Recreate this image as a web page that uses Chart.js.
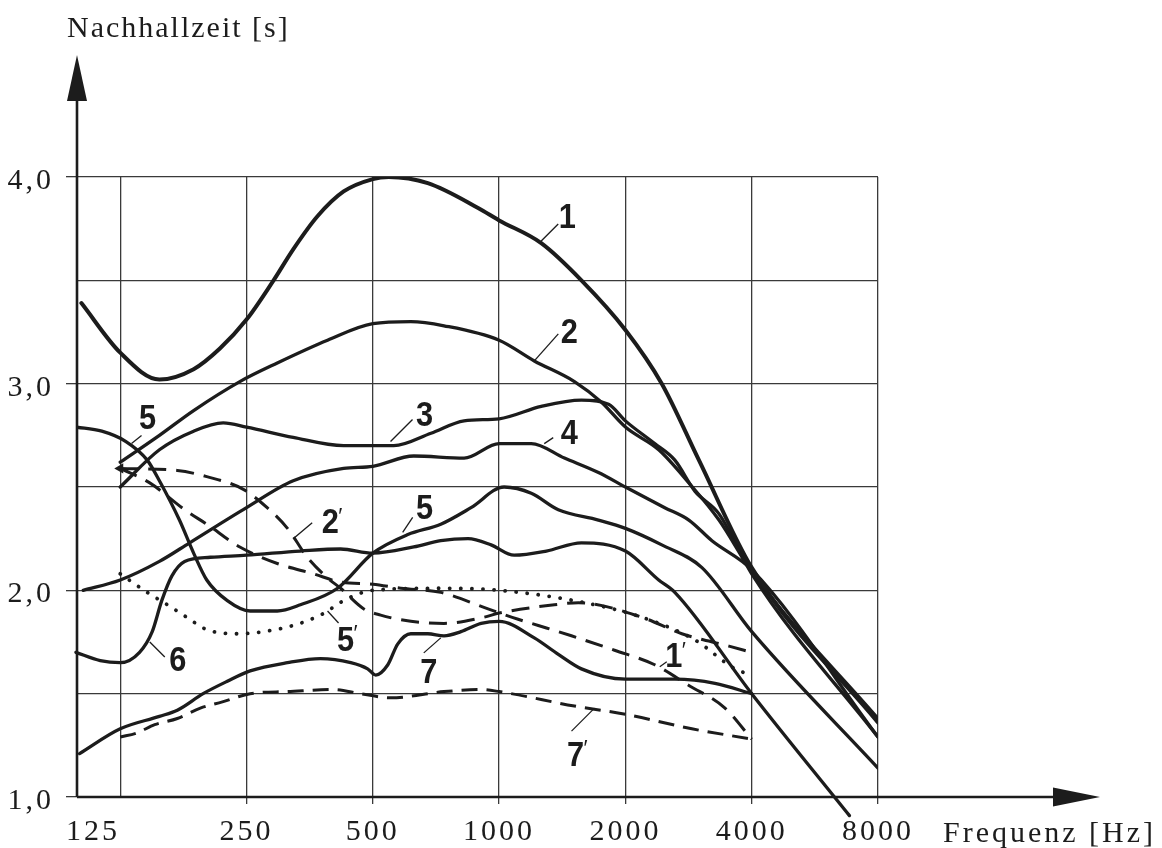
<!DOCTYPE html>
<html>
<head>
<meta charset="utf-8">
<script src="https://cdn.jsdelivr.net/npm/chart.js@4"></script>
<style>
  html, body { margin: 0; padding: 0; background: #fff; }
  #wrap { width: 1162px; height: 848px; }
</style>
</head>
<body>
<div id="wrap"><canvas id="rt-chart"></canvas></div>
<script>
// axis ticks
let freqTicks = [125, 250, 500, 1000, 2000, 4000, 8000];
let timeTicks = [1, 1.5, 2, 2.5, 3, 3.5, 4];

// reverberation time curves, frequency in Hz, time in s
let freq1 = [101, 125, 155, 187, 216, 250, 290, 323, 369, 426, 500, 546, 676, 891, 1000, 1260, 1571, 2000, 2442, 2994, 4000, 8000];
let rt1   = [3.39, 3.15, 3.02, 3.07, 3.17, 3.31, 3.50, 3.65, 3.81, 3.93, 3.99, 4.00, 3.97, 3.85, 3.79, 3.68, 3.50, 3.26, 3.00, 2.63, 2.11, 1.36];

let freq2 = [125, 155, 187, 241, 296, 390, 500, 616, 739, 1000, 1213, 1512, 1754, 2000, 2401, 2833, 3343, 4000, 8000];
let rt2   = [2.62, 2.75, 2.87, 3.01, 3.10, 3.21, 3.29, 3.30, 3.28, 3.21, 3.11, 3.01, 2.91, 2.79, 2.68, 2.52, 2.34, 2.09, 1.38];

let freq3 = [125, 155, 187, 220, 250, 323, 426, 561, 688, 825, 1000, 1260, 1571, 1823, 2000, 2349, 2623, 2928, 3343, 4000, 8000];
let rt3   = [2.50, 2.68, 2.77, 2.81, 2.79, 2.74, 2.70, 2.70, 2.76, 2.82, 2.83, 2.89, 2.92, 2.90, 2.82, 2.71, 2.63, 2.48, 2.37, 2.08, 1.29];

let freq4 = [102, 125, 155, 183, 250, 323, 426, 500, 626, 825, 1000, 1193, 1431, 1725, 2000, 2482, 2833, 3216, 4000, 8000];
let rt4   = [2.00, 2.05, 2.14, 2.23, 2.40, 2.53, 2.59, 2.60, 2.65, 2.64, 2.71, 2.71, 2.64, 2.57, 2.50, 2.40, 2.34, 2.24, 2.10, 1.29];

let freq5 = [98, 113, 129, 145, 155, 173, 187, 201, 225, 255, 296, 336, 412, 500, 606, 726, 857, 1028, 1193, 1384, 1725, 2000, 2442, 3044, 4000, 8000];
let rt5   = [2.79, 2.77, 2.72, 2.63, 2.53, 2.34, 2.18, 2.05, 1.95, 1.90, 1.90, 1.93, 2.01, 2.18, 2.27, 2.32, 2.40, 2.50, 2.47, 2.39, 2.34, 2.30, 2.22, 2.11, 1.80, 1.14];

let freq6 = [98, 112, 125, 139, 149, 157, 166, 178, 205, 250, 336, 419, 500, 626, 726, 843, 957, 1086, 1296, 1571, 2000, 2401, 2623, 4000, 6840];
let rt6   = [1.70, 1.66, 1.65, 1.70, 1.80, 1.95, 2.07, 2.14, 2.16, 2.17, 2.19, 2.20, 2.18, 2.21, 2.24, 2.25, 2.22, 2.17, 2.19, 2.23, 2.19, 2.05, 1.99, 1.50, 0.91];

let freq7 = [100, 125, 155, 171, 197, 225, 255, 313, 375, 443, 486, 508, 543, 573, 616, 676, 739, 811, 906, 1000, 1213, 1384, 1571, 2000, 2623, 3270, 4000];
let rt7   = [1.21, 1.33, 1.39, 1.42, 1.50, 1.56, 1.61, 1.65, 1.67, 1.65, 1.62, 1.59, 1.64, 1.74, 1.79, 1.79, 1.78, 1.80, 1.84, 1.85, 1.77, 1.69, 1.62, 1.57, 1.57, 1.55, 1.50];

let freq1p = [125, 147, 178, 201, 241, 296, 361, 419, 500, 583, 726, 941, 1110, 1240, 1487, 1884, 2349, 2833, 3455, 4000];
let rt1p   = [2.59, 2.52, 2.39, 2.32, 2.21, 2.13, 2.08, 2.04, 2.03, 2.01, 1.99, 1.91, 1.86, 1.83, 1.78, 1.71, 1.64, 1.54, 1.43, 1.28];

let freq2p = [125, 171, 201, 245, 280, 313, 349, 390, 419, 476, 522, 616, 739, 921, 1000, 1354, 1545, 2187, 2726, 3531, 4000];
let rt2p   = [2.59, 2.58, 2.55, 2.49, 2.40, 2.30, 2.16, 2.06, 2.01, 1.91, 1.88, 1.85, 1.84, 1.87, 1.89, 1.93, 1.94, 1.87, 1.79, 1.73, 1.70];

let freq5p = [125, 145, 162, 180, 201, 241, 274, 323, 375, 435, 500, 726, 1000, 1512, 2187, 2928, 3651, 4000];
let rt5p   = [2.08, 1.99, 1.93, 1.87, 1.81, 1.79, 1.80, 1.83, 1.88, 1.96, 2.00, 2.01, 2.00, 1.95, 1.87, 1.76, 1.62, 1.59];

let freq7p = [125, 137, 151, 171, 194, 219, 255, 313, 403, 468, 551, 739, 906, 1000, 1512, 2000, 2880, 4000];
let rt7p   = [1.29, 1.31, 1.35, 1.38, 1.43, 1.46, 1.50, 1.51, 1.52, 1.50, 1.48, 1.51, 1.52, 1.51, 1.44, 1.40, 1.33, 1.28];

const ink = '#1c1c1c';
const gridInk = '#3a3a3a';
const serif = '"Liberation Serif", "Times New Roman", serif';

// curve numbers: anchor on the curve (f, v), leader end (lx, ly) and label centre (dx, dy) in px
const tags = [
  { text: '1', f: 1260, v: 3.69, lx: 17, ly: -17, dx: 26, dy: -25 },
  { text: '2', f: 1213, v: 3.11, lx: 24, ly: -27, dx: 35, dy: -30 },
  { text: '3', f: 551, v: 2.72, lx: 22, ly: -22, dx: 34, dy: -27 },
  { text: '4', f: 1281, v: 2.71, lx: 9, ly: -6, dx: 25, dy: -11 },
  { text: '5', f: 589, v: 2.28, lx: 10, ly: -15, dx: 22, dy: -25 },
  { text: '5', f: 133, v: 2.71, lx: 10, ly: -8, dx: 16, dy: -26 },
  { text: '6', f: 147, v: 1.75, lx: 15, ly: 15, dx: 28, dy: 17 },
  { text: '7', f: 726, v: 1.77, lx: -17, ly: 15, dx: -12, dy: 33 },
  { text: '2', prime: true, f: 323, v: 2.25, lx: 19, ly: -16, dx: 37, dy: -17 },
  { text: '5', prime: true, f: 390, v: 1.90, lx: 11, ly: 12, dx: 18, dy: 28 },
  { text: '1', prime: true, f: 2415, v: 1.63, lx: 7, ly: -5, dx: 14, dy: -11 },
  { text: '7', prime: true, f: 1688, v: 1.43, lx: -23, ly: 23, dx: -19, dy: 46 }
];

function pts(fs, ts) {
  return fs.map((f, i) => ({ x: f, y: ts[i] }));
}

function curve(fs, ts, extra) {
  return Object.assign({
    data: pts(fs, ts),
    borderColor: ink,
    borderWidth: 3.3,
    pointRadius: 0,
    fill: false,
    cubicInterpolationMode: 'monotone',
    borderCapStyle: 'round',
    borderJoinStyle: 'round'
  }, extra);
}

const dashed = [18, 10];

let datasets = [
  curve(freq1, rt1, { borderWidth: 4 }),
  curve(freq2, rt2),
  curve(freq3, rt3),
  curve(freq4, rt4),
  curve(freq5, rt5),
  curve(freq6, rt6, { clip: false }),
  curve(freq7, rt7),
  curve(freq1p, rt1p, { borderDash: dashed, borderCapStyle: 'butt', borderWidth: 3 }),
  curve(freq2p, rt2p, {
    borderDash: dashed, borderCapStyle: 'butt', borderWidth: 3,
    pointRadius: c => c.dataIndex === 0 ? 6 : 0,
    pointStyle: 'triangle', rotation: -90,
    pointBackgroundColor: ink, pointBorderWidth: 0
  }),
  curve(freq5p, rt5p, { borderDash: [0.1, 11], borderWidth: 3.8 }),
  curve(freq7p, rt7p, { borderDash: [16, 9], borderCapStyle: 'butt', borderWidth: 3 })
];

const decor = {
  id: 'decor',
  beforeUpdate(chart) {
    chart.ctx.letterSpacing = '3px';
  },
  beforeDraw(chart) {
    const c = chart.ctx;
    c.save();
    c.fillStyle = '#fff';
    c.fillRect(0, 0, chart.width, chart.height);
    c.restore();
    c.letterSpacing = '3px';
  },
  afterDraw(chart) {
    const c = chart.ctx, a = chart.chartArea;
    const xs = chart.scales.x, ys = chart.scales.y;
    c.save();

    // axes with arrow heads
    c.strokeStyle = ink;
    c.fillStyle = ink;
    c.lineWidth = 2.6;
    c.beginPath();
    c.moveTo(a.left, a.bottom);
    c.lineTo(a.left, a.top - 80);
    c.moveTo(a.left, a.bottom);
    c.lineTo(a.right + 178, a.bottom);
    c.stroke();
    c.beginPath();
    c.moveTo(a.left, a.top - 122);
    c.lineTo(a.left + 10, a.top - 76);
    c.lineTo(a.left - 10, a.top - 76);
    c.closePath();
    c.fill();
    c.beginPath();
    c.moveTo(a.right + 222, a.bottom);
    c.lineTo(a.right + 175, a.bottom - 9.5);
    c.lineTo(a.right + 175, a.bottom + 9.5);
    c.closePath();
    c.fill();

    // axis titles
    c.font = '30px ' + serif;
    c.textAlign = 'left';
    c.textBaseline = 'alphabetic';
    c.letterSpacing = '2px';
    c.fillText('Nachhallzeit [s]', 67, 37);
    c.letterSpacing = '3px';
    c.fillText('Frequenz [Hz]', a.right + 65, a.bottom + 45);

    // the first frequency label sits just right of the axis
    c.textAlign = 'center';
    c.textBaseline = 'middle';
    c.fillText('125', a.left + 16, a.bottom + 17 + 18);

    // curve numbers with leader lines
    c.letterSpacing = '0px';
    tags.forEach(t => {
      const px = xs.getPixelForValue(t.f), py = ys.getPixelForValue(t.v);
      c.lineWidth = 1.3;
      c.beginPath();
      c.moveTo(px, py);
      c.lineTo(px + t.lx, py + t.ly);
      c.stroke();
      const cx = px + t.dx, cy = py + t.dy;
      c.save();
      c.translate(cx, cy);
      c.scale(0.88, 1);
      c.font = 'bold 35px "Liberation Sans", Arial, sans-serif';
      c.textAlign = 'center';
      c.textBaseline = 'middle';
      c.fillText(t.text, 0, 2);
      c.restore();
      if (t.prime) {
        c.font = '22px "Liberation Sans", Arial, sans-serif';
        c.textAlign = 'left';
        c.textBaseline = 'top';
        c.fillText('\u2032', cx + 8, cy - 16);
      }
    });
    c.restore();
  }
};

new Chart(document.getElementById('rt-chart'), {
  type: 'line',
  data: { datasets: datasets },
  options: {
    responsive: true,
    maintainAspectRatio: false,
    animation: false,
    events: [],
    layout: { padding: { left: 0, top: 177, right: 284, bottom: 0 } },
    plugins: {
      legend: { display: false },
      tooltip: { enabled: false }
    },
    scales: {
      x: {
        type: 'logarithmic',
        min: 98.6,
        max: 8000,
        afterBuildTicks: s => { s.ticks = freqTicks.map(v => ({ value: v })); },
        afterFit: s => { s.height = 51; },
        border: { display: false },
        grid: {
          color: gridInk,
          lineWidth: 1.3,
          tickLength: 7,
          tickColor: c => (c.tick && c.tick.value === 125) ? 'rgba(0,0,0,0)' : gridInk
        },
        ticks: {
          autoSkip: false,
          maxRotation: 0,
          padding: 10,
          color: ink,
          font: { family: serif, size: 30 },
          callback: v => v === 125 ? '' : String(v)
        }
      },
      y: {
        min: 1,
        max: 4,
        afterBuildTicks: s => { s.ticks = timeTicks.map(v => ({ value: v })); },
        afterFit: s => { s.width = 77; },
        border: { display: false },
        grid: {
          color: gridInk,
          lineWidth: 1.3,
          tickLength: 11,
          tickColor: c => (c.tick && c.tick.value % 1 === 0) ? gridInk : 'rgba(0,0,0,0)'
        },
        ticks: {
          padding: 12,
          labelOffset: 4,
          color: ink,
          font: { family: serif, size: 30 },
          callback: v => v % 1 === 0 ? v.toFixed(1).replace('.', ',') : ''
        }
      }
    }
  },
  plugins: [decor]
});
</script>
</body>
</html>
